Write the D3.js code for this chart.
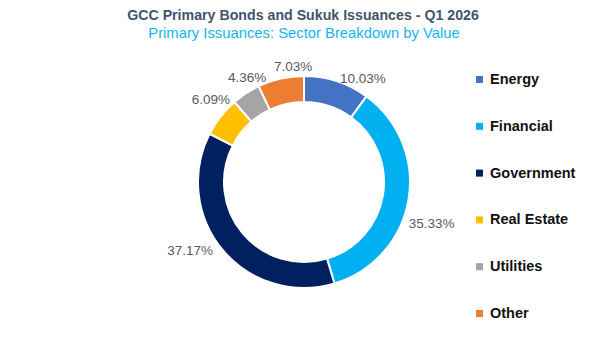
<!DOCTYPE html>
<html>
<head>
<meta charset="utf-8">
<script src="https://cdn.jsdelivr.net/npm/d3@7/dist/d3.min.js"></script>
<style>
  body { margin: 0; background: #fff; }
  text { font-family: "Liberation Sans", "DejaVu Sans", sans-serif; }
</style>
</head>
<body>
<div id="chart"></div>
<script>
// sector breakdown by value, Q1 2026
const sectors = ["Energy", "Financial", "Government", "Real Estate", "Utilities", "Other"];
const shares = [10.03, 35.33, 37.17, 6.09, 4.36, 7.03];
const colours = ["#4472C4", "#00B0F0", "#002060", "#FFC000", "#A5A5A5", "#ED7D31"];

const titleText = "GCC Primary Bonds and Sukuk Issuances - Q1 2026";
const subtitleText = "Primary Issuances: Sector Breakdown by Value";

const width = 607, height = 354;
const cx = 304, cy = 182;
const outerR = 106, innerR = 80;

const svg = d3.select("#chart").append("svg")
    .attr("width", width)
    .attr("height", height);

// titles
svg.append("text")
    .attr("x", 303).attr("y", 20)
    .attr("text-anchor", "middle")
    .attr("font-size", 14.2)
    .attr("font-weight", "bold")
    .attr("fill", "#44546A")
    .text(titleText);

svg.append("text")
    .attr("x", 304).attr("y", 38)
    .attr("text-anchor", "middle")
    .attr("font-size", 14.8)
    .attr("fill", "#14B4EE")
    .text(subtitleText);

const data = sectors.map((s, i) => ({name: s, value: shares[i], colour: colours[i]}));

const pie = d3.pie().value(d => d.value).sort(null);
const arc = d3.arc().innerRadius(innerR).outerRadius(outerR);

const g = svg.append("g").attr("transform", `translate(${cx},${cy})`);

const arcs = pie(data);

g.selectAll("path.slice")
    .data(arcs)
    .enter()
    .append("path")
    .attr("class", "slice")
    .attr("d", arc)
    .attr("fill", d => d.data.colour)
    .attr("stroke", "#fff")
    .attr("stroke-width", 2);

// data labels: placed just outside the ring, box touching the ring
const shift = 8 * Math.PI / 180;
const labelR = 112;
g.selectAll("text.lbl")
    .data(arcs)
    .enter()
    .append("text")
    .attr("class", "lbl")
    .attr("font-size", 13.5)
    .attr("fill", "#595959")
    .attr("text-anchor", "middle")
    .attr("dominant-baseline", "central")
    .attr("x", d => {
        const a = (d.startAngle + d.endAngle) / 2 + shift;
        return (labelR + 22) * Math.sin(a);
    })
    .attr("y", d => {
        const a = (d.startAngle + d.endAngle) / 2 + shift;
        return -(labelR + 9) * Math.cos(a) + 5;
    })
    .text(d => d.data.value.toFixed(2) + "%");

// legend
const legendY = d3.scalePoint().domain(sectors).range([79, 313]);
const legend = svg.append("g");
const items = legend.selectAll("g")
    .data(data)
    .enter()
    .append("g")
    .attr("transform", d => `translate(479,${legendY(d.name)})`);

items.append("rect")
    .attr("x", -3).attr("y", -3)
    .attr("width", 7).attr("height", 7)
    .attr("fill", d => d.colour);

items.append("text")
    .attr("x", 11)
    .attr("y", 0)
    .attr("dominant-baseline", "central")
    .attr("font-size", 14.5)
    .attr("font-weight", "bold")
    .attr("fill", "#111")
    .text(d => d.name);
</script>
</body>
</html>
